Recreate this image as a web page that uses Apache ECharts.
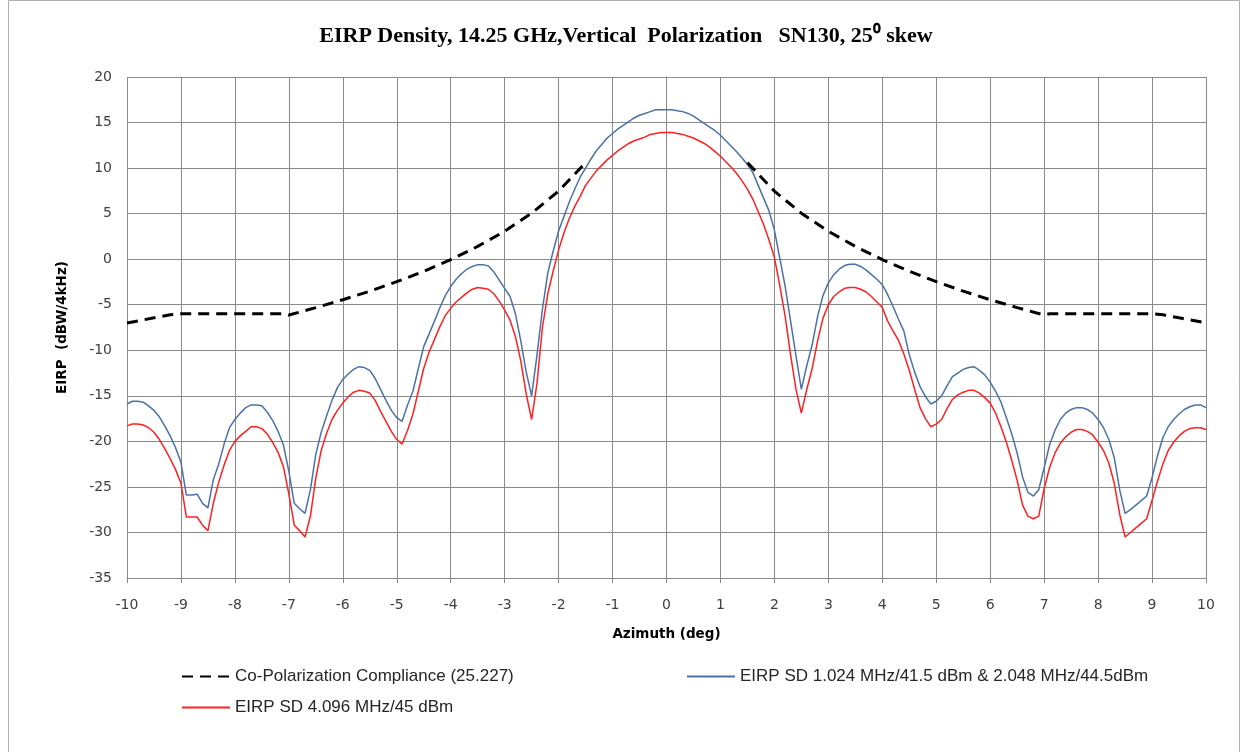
<!DOCTYPE html>
<html>
<head>
<meta charset="utf-8">
<script src="https://cdn.jsdelivr.net/npm/echarts@6/dist/echarts.min.js"></script>
<style>
html,body{margin:0;padding:0;background:#fff;}
#chart{width:1252px;height:752px;}
</style>
</head>
<body>
<div id="chart"></div>
<script>
// Azimuth grid (deg), 0.1 deg steps from -10 to 10
const azimuth = [];
for (let i = 0; i <= 200; i++) azimuth.push(Math.round(-100 + i) / 10);

// EIRP SD 1.024 MHz/41.5 dBm & 2.048 MHz/44.5dBm (blue)
const eirpBlue = [
  -15.9,-15.6,-15.6,-15.7,-16.1,-16.6,-17.3,-18.3,-19.4,-20.7,
  -22.3,-25.9,-25.9,-25.8,-26.8,-27.3,-24.2,-22.5,-20.3,-18.5,
  -17.6,-16.9,-16.3,-16.0,-16.0,-16.1,-16.8,-17.7,-18.9,-20.4,
  -23.3,-26.8,-27.4,-27.9,-25.3,-21.4,-19.0,-17.2,-15.5,-14.1,
  -13.2,-12.6,-12.1,-11.8,-11.9,-12.2,-13.1,-14.3,-15.5,-16.6,
  -17.4,-17.8,-16.0,-14.5,-12.0,-9.6,-8.2,-6.8,-5.3,-4.0,
  -3.0,-2.2,-1.6,-1.1,-0.8,-0.6,-0.6,-0.75,-1.4,-2.3,
  -3.2,-4.1,-6.0,-9.0,-12.4,-15.0,-10.5,-5.5,-1.5,0.9,
  3.1,4.7,6.3,7.7,9.0,10.0,11.0,11.9,12.6,13.3,
  13.8,14.3,14.7,15.1,15.5,15.8,16.0,16.2,16.4,16.4,
  16.4,
  16.4,16.3,16.2,16.0,15.7,15.3,14.9,14.5,14.1,13.6,
  13.0,12.4,11.8,11.1,10.4,9.5,8.1,6.7,5.3,3.2,
  0.1,-3.0,-6.8,-10.6,-14.3,-11.7,-9.4,-6.3,-4.0,-2.6,
  -1.7,-1.1,-0.7,-0.55,-0.55,-0.8,-1.2,-1.7,-2.2,-2.8,
  -3.9,-5.2,-6.6,-7.9,-10.5,-12.4,-14.0,-15.1,-15.9,-15.6,
  -15.0,-13.9,-12.9,-12.5,-12.1,-11.9,-11.8,-12.2,-12.7,-13.5,
  -14.5,-15.7,-17.4,-19.2,-21.3,-23.9,-25.6,-26.0,-25.3,-22.9,
  -20.4,-18.8,-17.6,-16.9,-16.5,-16.3,-16.3,-16.5,-16.9,-17.6,
  -18.5,-19.8,-21.8,-25.3,-27.9,-27.5,-27.0,-26.5,-26.0,-24.0,
  -21.6,-19.6,-18.4,-17.6,-17.0,-16.5,-16.2,-16.0,-16.0,-16.3
];

// EIRP SD 4.096 MHz/45 dBm (red)
const eirpRed = [
  -18.3,-18.1,-18.1,-18.2,-18.5,-19.0,-19.8,-20.8,-21.9,-23.1,
  -24.6,-28.3,-28.3,-28.3,-29.2,-29.8,-26.8,-24.5,-22.6,-21.0,
  -20.0,-19.4,-18.9,-18.4,-18.4,-18.6,-19.2,-20.1,-21.2,-22.8,
  -25.8,-29.2,-29.8,-30.5,-28.2,-24.0,-21.0,-19.1,-17.6,-16.6,
  -15.8,-15.1,-14.6,-14.4,-14.5,-14.7,-15.5,-16.7,-17.8,-18.9,
  -19.8,-20.3,-18.8,-17.0,-14.5,-12.0,-10.2,-8.8,-7.4,-6.2,
  -5.4,-4.7,-4.2,-3.7,-3.3,-3.1,-3.2,-3.3,-3.8,-4.6,
  -5.6,-6.7,-8.5,-11.2,-14.8,-17.6,-13.6,-7.5,-3.8,-1.3,
  1.0,2.9,4.5,5.8,6.9,8.1,8.9,9.7,10.3,10.9,
  11.4,11.9,12.3,12.7,13.0,13.2,13.4,13.7,13.8,13.9,
  13.9,
  13.9,13.8,13.7,13.5,13.3,13.0,12.7,12.3,11.8,11.3,
  10.7,10.1,9.4,8.6,7.7,6.6,5.2,3.8,2.1,0.2,
  -2.9,-6.3,-10.5,-14.3,-16.9,-14.3,-12.0,-9.0,-6.5,-5.0,
  -4.1,-3.6,-3.2,-3.1,-3.1,-3.3,-3.6,-4.1,-4.7,-5.3,
  -6.8,-7.9,-8.9,-10.4,-12.2,-14.3,-16.3,-17.5,-18.4,-18.1,
  -17.6,-16.4,-15.4,-14.9,-14.6,-14.4,-14.4,-14.7,-15.2,-15.8,
  -16.9,-18.4,-20.1,-22.1,-24.3,-27.0,-28.2,-28.5,-28.2,-25.2,
  -22.9,-21.3,-20.2,-19.5,-19.0,-18.7,-18.7,-18.9,-19.3,-20.1,
  -21.0,-22.4,-24.6,-28.0,-30.5,-30.0,-29.5,-29.0,-28.5,-26.5,
  -24.4,-22.5,-21.0,-20.1,-19.4,-18.9,-18.6,-18.5,-18.5,-18.7
];

// Co-Polarization Compliance (25.227) mask, left and right branches
const maskAzLeft  = [-10,-9.5,-9.2,-9,-8,-7.1,-7,-6.5,-6,-5.5,-5,-4.5,-4,-3.5,-3,-2.5,-2,-1.5];
const maskValLeft = [-7.0,-6.44,-6.1,-6.0,-6.0,-6.0,-6.13,-5.32,-4.45,-3.51,-2.47,-1.33,-0.05,1.40,3.07,5.05,7.47,10.6];
const maskAzRight  = [1.5,2,2.5,3,3.5,4,4.5,5,5.5,6,6.5,7,7.1,8,9,9.2,9.5,10];
const maskValRight = [10.6,7.47,5.05,3.07,1.40,-0.05,-1.33,-2.47,-3.51,-4.45,-5.32,-6.13,-6.0,-6.0,-6.0,-6.1,-6.44,-7.0];

const yTicks = {min: -35, max: 20, step: 5};
const xTicks = {min: -10, max: 10, step: 1};

const names = {
  mask: 'Co-Polarization Compliance (25.227)',
  blue: 'EIRP SD 1.024 MHz/41.5 dBm & 2.048 MHz/44.5dBm',
  red: 'EIRP SD 4.096 MHz/45 dBm'
};

function pairs(xs, ys) { return xs.map((x, i) => [x, ys[i]]); }

const chart = echarts.init(document.getElementById('chart'), null, {renderer: 'canvas'});
const gridColor = '#8a8a8a';
const legendText = {fontFamily: 'Liberation Sans, Arial, sans-serif', fontSize: 17, color: '#262626'};
const legendCommon = {itemWidth: 48, itemHeight: 14, textStyle: legendText, itemStyle: {opacity: 0, borderWidth: 0}};

chart.setOption({
  backgroundColor: '#fff',
  animation: false,
  title: {
    text: 'EIRP Density, 14.25 GHz,Vertical  Polarization   SN130, 25\u2070 skew',
    left: 'center', top: 20,
    textStyle: {fontFamily: 'Liberation Serif, serif', fontWeight: 'bold', fontSize: 22, color: '#000'}
  },
  graphic: [{
    type: 'rect', left: 6, top: -2, silent: true,
    shape: {width: 1231, height: 760},
    style: {fill: 'none', stroke: '#b0b0b0', lineWidth: 1}
  }],
  grid: {left: 127, right: 46, top: 77, bottom: 174, containLabel: false},
  legend: [
    Object.assign({data: [names.mask], left: 176, top: 663}, legendCommon),
    Object.assign({data: [names.blue], left: 681, top: 663}, legendCommon),
    Object.assign({data: [names.red], left: 176, top: 694}, legendCommon)
  ],
  xAxis: {
    type: 'value', min: xTicks.min, max: xTicks.max, interval: xTicks.step,
    name: 'Azimuth (deg)', nameLocation: 'middle', nameGap: 49,
    nameTextStyle: {fontFamily: 'DejaVu Sans, sans-serif', fontWeight: 'bold', fontSize: 13.5, color: '#000'},
    axisLine: {show: true, onZero: false, lineStyle: {color: gridColor, width: 1}},
    axisTick: {show: true, length: 5, lineStyle: {color: gridColor}},
    axisLabel: {fontFamily: 'DejaVu Sans, sans-serif', fontSize: 14, color: '#404040', margin: 20},
    splitLine: {show: true, lineStyle: {color: gridColor, width: 1}}
  },
  yAxis: {
    type: 'value', min: yTicks.min, max: yTicks.max, interval: yTicks.step,
    name: 'EIRP  (dBW/4kHz)', nameLocation: 'middle', nameGap: 58, nameRotate: 90,
    nameTextStyle: {fontFamily: 'DejaVu Sans, sans-serif', fontWeight: 'bold', fontSize: 13.5, color: '#000'},
    axisLine: {show: true, lineStyle: {color: gridColor, width: 1}},
    axisTick: {show: true, length: 5, lineStyle: {color: gridColor}},
    axisLabel: {fontFamily: 'DejaVu Sans, sans-serif', fontSize: 14, color: '#404040', margin: 15},
    splitLine: {show: true, lineStyle: {color: gridColor, width: 1}}
  },
  series: [
    {name: names.mask, type: 'line', symbol: 'none', data: pairs(maskAzLeft, maskValLeft),
     lineStyle: {color: '#000', width: 3, type: [11, 7]}, itemStyle: {color: '#000'}, z: 3},
    {name: names.mask, type: 'line', symbol: 'none', data: pairs(maskAzRight, maskValRight),
     lineStyle: {color: '#000', width: 3, type: [11, 7]}, itemStyle: {color: '#000'}, z: 3},
    {name: names.blue, type: 'line', symbol: 'none', data: pairs(azimuth, eirpBlue),
     lineStyle: {color: '#4a72a6', width: 1.5}, itemStyle: {color: '#4a72a6'}, z: 2},
    {name: names.red, type: 'line', symbol: 'none', data: pairs(azimuth, eirpRed),
     lineStyle: {color: '#ff2020', width: 1.5}, itemStyle: {color: '#ff2020'}, z: 2}
  ]
});
</script>
</body>
</html>
